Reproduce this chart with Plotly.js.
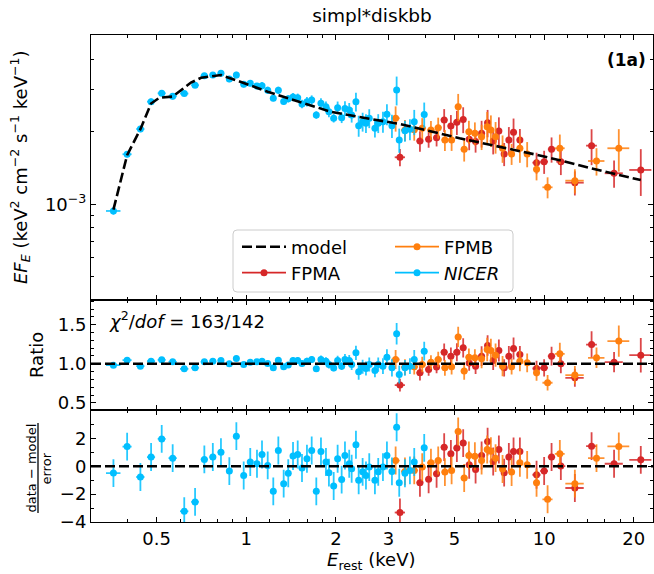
<!DOCTYPE html>
<html><head><meta charset="utf-8">
<script src="https://cdn.plot.ly/plotly-3.0.1.min.js"></script>
<style>html,body{margin:0;padding:0;background:#fff}</style>
</head><body><div id="chart" style="width:654px;height:574px"></div>
<script>
// ---------- data ----------
const nicerE = [0.358,0.398,0.441,0.479,0.520,0.566,0.619,0.673,0.723,0.772,0.822,0.877,0.926,0.980,1.031,1.086,1.129,1.180,1.232,1.281,1.335,1.383,1.435,1.488,1.538,1.598,1.658,1.718,1.781,1.851,1.894,1.965,2.026,2.090,2.144,2.216,2.258,2.334,2.384,2.458,2.522,2.587,2.703,2.773,2.876,2.966,3.083,3.197,3.262,3.409,3.543,3.663,3.957];
const nicerDE = [0.02,0.014,0.014,0.015,0.016,0.018,0.02,0.02,0.02,0.02,0.02,0.02,0.02,0.02,0.02,0.02,0.02,0.02,0.02,0.02,0.02,0.02,0.02,0.02,0.02,0.02,0.02,0.025,0.025,0.025,0.025,0.025,0.03,0.03,0.03,0.03,0.03,0.03,0.03,0.03,0.03,0.03,0.04,0.04,0.04,0.04,0.04,0.05,0.05,0.05,0.05,0.05,0.06];
const nicerFlux = [9.38e-4,1.613e-3,2.053e-3,2.666e-3,2.888e-3,2.805e-3,2.88e-3,3.12e-3,3.417e-3,3.44e-3,3.496e-3,3.311e-3,3.44e-3,3.148e-3,3.18e-3,3.097e-3,3.105e-3,2.972e-3,2.754e-3,2.972e-3,2.67e-3,2.74e-3,2.786e-3,2.768e-3,2.608e-3,2.666e-3,2.709e-3,2.347e-3,2.625e-3,2.541e-3,2.42e-3,2.275e-3,2.518e-3,2.287e-3,2.5e-3,2.46e-3,2.347e-3,2.666e-3,2.118e-3,2.2e-3,2.17e-3,2.275e-3,2.067e-3,2.17e-3,2.2e-3,2.362e-3,2.118e-3,2.98e-3,1.848e-3,2.02e-3,2.05e-3,2.2e-3,2.36e-3];
const nicerRatio = [0.983,1.047,0.970,1.034,1.051,1.026,0.936,0.949,1.026,1.034,1.043,1.000,1.068,0.991,1.021,1.026,1.034,1.004,0.949,1.047,0.962,0.985,1.043,1.043,1.004,1.034,1.055,0.936,1.055,1.034,0.991,0.945,1.043,0.970,1.055,1.043,0.990,1.140,0.898,0.962,0.940,0.991,0.915,0.990,0.970,1.085,0.949,1.383,0.864,0.949,0.970,1.055,1.162];
const nicerErr = [0.035,0.03,0.03,0.03,0.026,0.03,0.02,0.02,0.025,0.025,0.03,0.03,0.031,0.03,0.03,0.03,0.035,0.035,0.028,0.035,0.03,0.035,0.04,0.04,0.04,0.045,0.045,0.036,0.05,0.05,0.05,0.04,0.06,0.05,0.07,0.07,0.07,0.09,0.10,0.09,0.09,0.09,0.085,0.09,0.10,0.10,0.11,0.137,0.115,0.10,0.10,0.12,0.12];
const nicerResid = [-0.49,1.41,-0.77,0.66,1.96,0.58,-3.23,-2.56,0.49,0.66,1.01,-0.35,2.16,-0.66,0.30,0.18,0.84,0.06,-1.80,1.13,-1.25,-0.50,0.73,0.84,-0.13,0.54,1.13,-1.80,1.06,0.30,-0.46,-1.42,0.54,-0.96,0.77,0.18,-0.18,1.54,-1.01,-0.40,-0.66,-0.06,-1.01,-0.40,-0.06,0.77,-0.37,2.80,-1.18,-0.50,-0.30,0.30,1.32];

const fpmaE = [3.28,3.828,4.094,4.354,4.617,4.863,5.093,5.348,5.602,5.886,6.166,6.459,6.744,7.047,7.341,7.612,7.894,8.29,9.43,10.0,10.59,11.38,12.68,14.43,17.17,21.11];
const fpmaDE = [0.13,0.1,0.1,0.11,0.12,0.12,0.13,0.13,0.14,0.15,0.15,0.15,0.16,0.16,0.17,0.17,0.18,0.2,0.3,0.3,0.3,0.4,0.9,0.6,1.2,1.8];
const fpmaFlux = [1.567e-3,1.83e-3,1.862e-3,1.889e-3,2.239e-3,2.113e-3,2.19e-3,2.25e-3,1.862e-3,1.82e-3,1.97e-3,2.18e-3,1.83e-3,2.013e-3,1.618e-3,1.85e-3,1.99e-3,1.85e-3,1.488e-3,1.502e-3,1.691e-3,1.502e-3,1.229e-3,1.751e-3,1.345e-3,1.388e-3];
const fpmaRatio = [0.728,0.885,0.927,0.958,1.149,1.098,1.149,1.204,1.01,0.97,1.098,1.234,1.042,1.17,0.949,1.098,1.195,1.119,0.94,0.949,1.098,1.0,0.821,1.246,1.021,1.11];
const fpmaErr = [0.082,0.097,0.078,0.08,0.109,0.11,0.115,0.123,0.1,0.1,0.127,0.13,0.12,0.14,0.11,0.13,0.14,0.11,0.1,0.11,0.12,0.12,0.115,0.17,0.13,0.22];
const fpmaResid = [-3.32,-1.18,-0.94,-0.54,1.37,0.89,1.30,1.66,0.11,-0.23,0.77,1.77,0.34,1.20,-0.46,0.66,1.06,1.06,-0.61,-0.34,0.66,0.01,-1.56,1.44,0.18,0.46];

const fpmbE = [3.172,3.409,3.663,3.896,4.168,4.409,4.643,4.89,5.145,5.389,5.589,5.854,6.166,6.439,6.625,6.87,7.25,7.776,8.29,8.77,9.43,10.27,11.29,12.68,14.99,17.81];
const fpmbDE = [0.1,0.1,0.11,0.11,0.12,0.12,0.12,0.13,0.13,0.14,0.14,0.15,0.15,0.15,0.16,0.16,0.17,0.18,0.2,0.2,0.22,0.4,0.43,0.9,0.95,1.5];
const fpmbFlux = [2.275e-3,2.033e-3,2.04e-3,2.07e-3,2.033e-3,2.08e-3,1.85e-3,1.85e-3,2.54e-3,1.69e-3,2.0e-3,1.97e-3,1.908e-3,2.099e-3,2.033e-3,1.908e-3,1.708e-3,1.618e-3,1.708e-3,1.618e-3,1.396e-3,1.176e-3,1.708e-3,1.253e-3,1.512e-3,1.708e-3];
const fpmbRatio = [1.055,0.958,0.962,0.991,1.021,1.055,0.949,0.962,1.344,0.907,1.085,1.077,1.064,1.183,1.17,1.111,0.97,0.962,1.034,1.013,0.885,0.758,1.128,0.856,1.077,1.29];
const fpmbErr = [0.12,0.1,0.1,0.1,0.09,0.1,0.1,0.1,0.13,0.11,0.11,0.11,0.12,0.15,0.15,0.15,0.13,0.1,0.13,0.12,0.1,0.1,0.14,0.115,0.13,0.2];
const fpmbResid = [0.41,-0.37,-0.30,-0.06,0.25,0.41,-0.42,-0.30,2.49,-0.84,0.77,0.72,0.41,1.20,1.08,0.58,-0.20,-0.42,0.25,0.10,-1.18,-2.37,0.89,-1.25,0.58,1.42];

const modelE = [0.358,0.398,0.441,0.479,0.511,0.566,0.652,0.705,0.822,0.888,0.985,1.18,1.488,1.924,2.36,3.3,5.2,10.0,14.4,21.1];
const modelF = [9.5e-4,1.60e-3,2.05e-3,2.62e-3,2.77e-3,2.80e-3,3.20e-3,3.35e-3,3.44e-3,3.33e-3,3.18e-3,2.93e-3,2.67e-3,2.42e-3,2.31e-3,2.15e-3,1.88e-3,1.58e-3,1.41e-3,1.26e-3];

const xMajor = [0.5,1,2,3,5,10,20];
const xMajorText = ['0.5','1','2','3','5','10','20'];
const xMinor = [0.4,0.6,0.7,0.8,0.9,1.2,1.4,1.6,1.8,4,6,7,8,9,12,14,16,18];
const fluxMajor = [1e-3];
const fluxMajorText = ['10<sup>−3</sup>'];
const fluxMinor = [4e-4,5e-4,6e-4,7e-4,8e-4,9e-4,2e-3,3e-3,4e-3,5e-3];
const ratioMajor = [0.5,1.0,1.5];
const ratioMajorText = ['0.5','1.0','1.5'];
const ratioMinor = [0.6,0.7,0.8,0.9,1.1,1.2,1.3,1.4,1.6,1.7,1.8];
const residMajor = [-4,-2,0,2];
const residMinor = [-3,-1,1,3];

// ---------- styling ----------
const C_NICER = '#00BFFF', C_A = '#D62728', C_B = '#FF7F0E';
const EB_A = 'rgba(214,39,40,0.85)', EB_B = 'rgba(255,127,14,0.85)', EB_N = 'rgba(0,191,255,0.85)';
const DASH = '10px,4px';

function pts(E, dE, y, yerr, col, ebcol, xa, ya, constErr) {
  return {
    type: 'scatter', mode: 'markers', x: E, y: y, xaxis: xa, yaxis: ya,
    showlegend: false, hoverinfo: 'skip',
    marker: {color: col, size: 7, line: {width: 0}},
    error_x: {type: 'data', array: dE, symmetric: true, color: ebcol, thickness: 1.8, width: 0},
    error_y: constErr ? {type: 'constant', value: 1, color: ebcol, thickness: 1.8, width: 0}
                      : {type: 'data', array: yerr, symmetric: true, color: ebcol, thickness: 1.8, width: 0}
  };
}
const mul = (a, b) => a.map((v, i) => v * b[i]);

const sets = [
  [fpmaE, fpmaDE, fpmaFlux, fpmaRatio, fpmaErr, fpmaResid, C_A, EB_A],
  [fpmbE, fpmbDE, fpmbFlux, fpmbRatio, fpmbErr, fpmbResid, C_B, EB_B],
  [nicerE, nicerDE, nicerFlux, nicerRatio, nicerErr, nicerResid, C_NICER, EB_N]
];
const traces = [];
sets.forEach(s => {
  traces.push(pts(s[0], s[1], s[2], mul(s[2], s[4]), s[6], s[7], 'x3', 'y3'));
  traces.push(pts(s[0], s[1], s[3], s[4], s[6], s[7], 'x2', 'y2'));
  traces.push(pts(s[0], s[1], s[5], null, s[6], s[7], 'x', 'y', true));
});
traces.push({type: 'scatter', mode: 'lines', x: modelE, y: modelF, xaxis: 'x3', yaxis: 'y3',
  line: {color: '#000', width: 2.6, dash: DASH}, showlegend: false, hoverinfo: 'skip'});

// legend entries (one legend per entry so each can be placed like the 2-column original)
function leg(name, col, legend, mode, dash) {
  return {type: 'scatter', mode: mode, x: [null], y: [null], xaxis: 'x3', yaxis: 'y3', name: name,
    legend: legend,
    line: {color: col, width: dash ? 2.6 : 1.8, dash: dash || 'solid'},
    marker: {color: col, size: 7}};
}
traces.push(leg('model', '#000', 'legend', 'lines', DASH));
traces.push(leg('FPMA', C_A, 'legend2', 'lines+markers', null));
traces.push(leg('FPMB', C_B, 'legend3', 'lines+markers', null));
traces.push(leg('<i>NICER</i>', C_NICER, 'legend4', 'lines+markers', null));

const FONT = 'DejaVu Sans, sans-serif';
function xax(anchor, labels) {
  const a = {type: 'log', range: [Math.log10(0.301), Math.log10(23.2)], anchor: anchor,
    tickmode: 'array', tickvals: xMajor, ticktext: xMajorText, showticklabels: labels,
    ticks: 'inside', ticklen: 5, tickwidth: 1, tickcolor: '#000', mirror: 'allticks',
    showline: true, linecolor: '#000', linewidth: 1, showgrid: false, zeroline: false,
    tickfont: {size: 18, color: '#000'},
    minor: {tickmode: 'array', tickvals: xMinor, ticks: 'inside', ticklen: 3, tickwidth: 1, tickcolor: '#000', showgrid: false}};
  if (anchor !== 'y') a.matches = 'x';
  return a;
}
function yax(dom, type, range, maj, majText, minr) {
  const a = {domain: dom, type: type, range: range,
    tickmode: 'array', tickvals: maj, ticks: 'inside', ticklen: 5, tickwidth: 1, tickcolor: '#000',
    mirror: 'allticks', showline: true, linecolor: '#000', linewidth: 1, showgrid: false, zeroline: false,
    tickfont: {size: 18, color: '#000'},
    minor: {tickmode: 'array', tickvals: minr, ticks: 'inside', ticklen: 3, tickwidth: 1, tickcolor: '#000', showgrid: false}};
  if (majText) a.ticktext = majText;
  return a;
}
const yA = yax([0, 0.229], 'linear', [-4, 4], residMajor, null, residMinor); yA.anchor = 'x';
const yB = yax([0.229, 0.456], 'linear', [0.404, 1.816], ratioMajor, ratioMajorText, ratioMinor); yB.anchor = 'x2';
const yC = yax([0.456, 1], 'log', [-3.397, -2.2975], fluxMajor, fluxMajorText, fluxMinor); yC.anchor = 'x3';

const px = v => (v - 91) / 562;
const py = v => (522 - v) / 487;
const r = 4;
const bx0 = px(233), bx1 = px(513), by0 = py(292), by1 = py(230);
const rx = r / 562, ry = r / 487;
const boxPath = `M ${bx0 + rx},${by1} L ${bx1 - rx},${by1} Q ${bx1},${by1} ${bx1},${by1 - ry} L ${bx1},${by0 + ry} Q ${bx1},${by0} ${bx1 - rx},${by0} L ${bx0 + rx},${by0} Q ${bx0},${by0} ${bx0},${by0 + ry} L ${bx0},${by1 - ry} Q ${bx0},${by1} ${bx0 + rx},${by1} Z`;

function legBox(x, yc) {
  return {x: px(x), y: py(yc), xanchor: 'left', yanchor: 'middle', bgcolor: 'rgba(0,0,0,0)', borderwidth: 0,
    font: {size: 18, family: FONT}, itemwidth: 44};
}

const layout = {
  width: 654, height: 574,
  margin: {l: 91, r: 1, t: 35, b: 52, pad: 0},
  paper_bgcolor: '#fff', plot_bgcolor: '#fff',
  font: {family: FONT, size: 18, color: '#000'},
  title: {text: 'simpl*diskbb', font: {size: 18.5, family: FONT, color: '#000'},
    xref: 'paper', x: 0.5, xanchor: 'center', yref: 'container', y: 1 - 16 / 574, yanchor: 'middle'},
  xaxis: xax('y', true), xaxis2: xax('y2', false), xaxis3: xax('y3', false),
  yaxis: yA, yaxis2: yB, yaxis3: yC,
  showlegend: true,
  legend: legBox(237, 247),
  legend2: legBox(237, 273),
  legend3: legBox(390, 247),
  legend4: legBox(390, 273),
  shapes: [
    {type: 'line', xref: 'paper', x0: 0, x1: 1, yref: 'y2', y0: 1, y1: 1, line: {color: '#000', width: 2.6, dash: DASH}, layer: 'above'},
    {type: 'line', xref: 'paper', x0: 0, x1: 1, yref: 'y', y0: 0, y1: 0, line: {color: '#000', width: 2.6, dash: DASH}, layer: 'above'},
    {type: 'path', xref: 'paper', yref: 'paper', path: boxPath, fillcolor: 'rgba(255,255,255,0.8)', line: {color: '#cccccc', width: 1}, layer: 'above'},
    {type: 'line', xref: 'paper', yref: 'paper', x0: px(38), x1: px(38), y0: py(423), y1: py(513), line: {color: '#000', width: 1.3}}
  ],
  annotations: [
    {xref: 'paper', yref: 'paper', x: px(20), y: py(167), xanchor: 'center', yanchor: 'middle', textangle: -90, showarrow: false,
     text: '<i>EF</i><sub><i>E</i></sub> (keV<sup>2</sup> cm<sup>−2</sup> s<sup>−1</sup> keV<sup>−1</sup>)', font: {size: 18}},
    {xref: 'paper', yref: 'paper', x: px(36), y: py(355), xanchor: 'center', yanchor: 'middle', textangle: -90, showarrow: false,
     text: 'Ratio', font: {size: 18}},
    {xref: 'paper', yref: 'paper', x: px(30.5), y: py(468), xanchor: 'center', yanchor: 'middle', textangle: -90, showarrow: false,
     text: 'data − model', font: {size: 13}},
    {xref: 'paper', yref: 'paper', x: px(45.5), y: py(469), xanchor: 'center', yanchor: 'middle', textangle: -90, showarrow: false,
     text: 'error', font: {size: 13}},
    {xref: 'paper', yref: 'paper', x: px(371), y: py(561), xanchor: 'center', yanchor: 'middle', showarrow: false,
     text: '<i>E</i><sub>rest</sub> (keV)', font: {size: 18}},
    {xref: 'paper', yref: 'paper', x: px(648), y: py(60), xanchor: 'right', yanchor: 'middle', showarrow: false,
     text: '<b>(1a)</b>', font: {size: 17}},
    {xref: 'paper', yref: 'paper', x: px(107), y: py(320), xanchor: 'left', yanchor: 'middle', showarrow: false,
     text: '<i>χ</i><sup>2</sup>/<i>dof</i> = 163/142', font: {size: 18}}
  ]
};

Plotly.newPlot('chart', traces, layout, {staticPlot: true, displayModeBar: false});
</script></body></html>
